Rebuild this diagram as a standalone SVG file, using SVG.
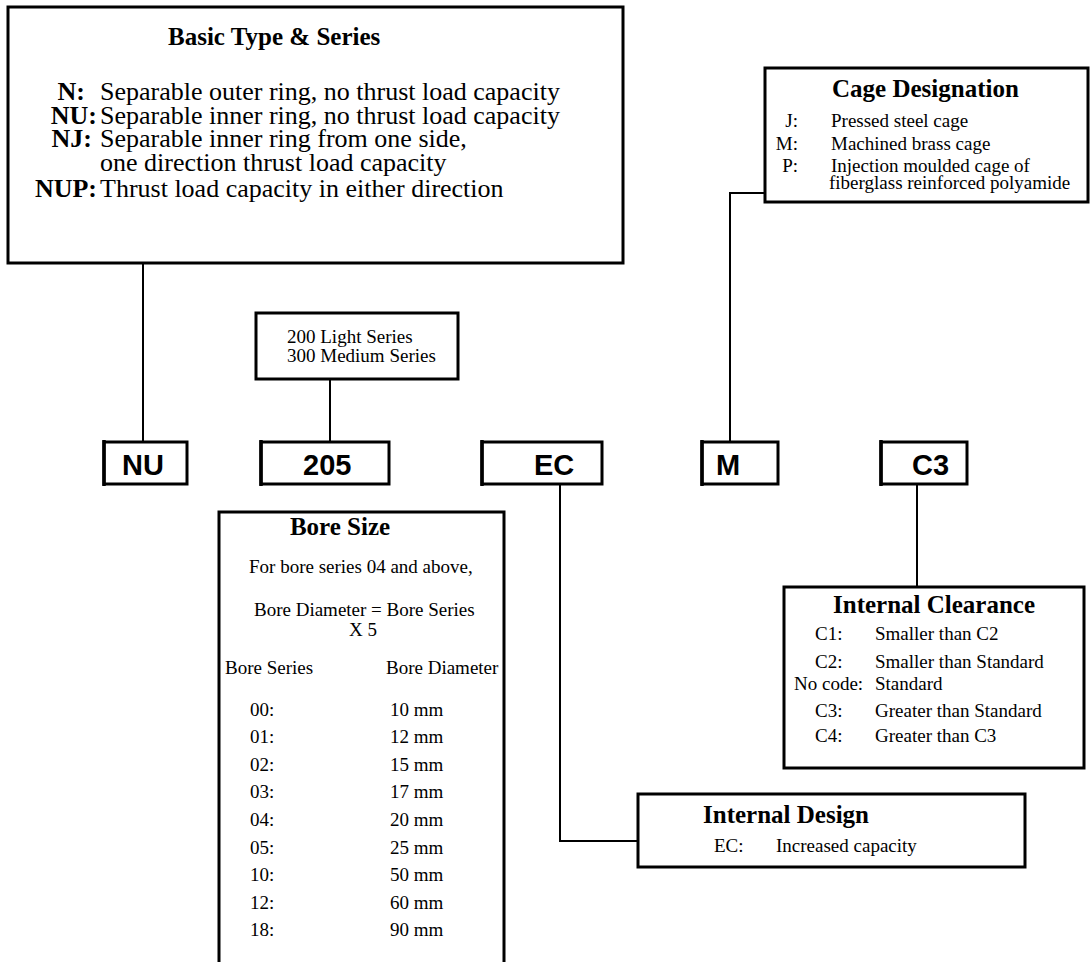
<svg xmlns="http://www.w3.org/2000/svg" width="1092" height="962" viewBox="0 0 1092 962">
<style>
.box{fill:#fff;stroke:#000;stroke-width:3}
.conn{fill:none;stroke:#000;stroke-width:2}
.edge{stroke:#000;stroke-width:3.5}
text{font-family:"Liberation Serif","Times New Roman",serif;fill:#000}
.title{font-weight:bold;font-size:25px}
.body{font-size:19px}
.big{font-size:26px}
.lbl{font-size:26px;font-weight:bold}
.code{font-family:"Liberation Sans",Arial,sans-serif;font-weight:bold;font-size:29px}
</style>
<rect width="1092" height="962" fill="#fff"/>
<g id="connectors">
<path class="conn" d="M143,263 V442"/>
<path class="conn" d="M330,379 V442"/>
<path class="conn" d="M560,485 V841 H638"/>
<path class="conn" d="M765,193 H730 V442"/>
<path class="conn" d="M917,485 V587"/>
</g>
<g id="basic-type">
<rect class="box" x="8" y="7" width="615" height="256"/>
<text class="title" x="168" y="45">Basic Type &amp; Series</text>
<text class="lbl" x="85" y="100" text-anchor="end">N:</text>
<text class="big" x="100" y="100">Separable outer ring, no thrust load capacity</text>
<text class="lbl" x="97" y="124" text-anchor="end">NU:</text>
<text class="big" x="100" y="124">Separable inner ring, no thrust load capacity</text>
<text class="lbl" x="92" y="147" text-anchor="end">NJ:</text>
<text class="big" x="100" y="147">Separable inner ring from one side,</text>
<text class="big" x="100" y="171">one direction thrust load capacity</text>
<text class="lbl" x="97" y="197" text-anchor="end">NUP:</text>
<text class="big" x="100" y="197">Thrust load capacity in either direction</text>
</g>
<g id="series">
<rect class="box" x="256" y="313" width="202" height="66"/>
<text class="body" x="287" y="343">200 Light Series</text>
<text class="body" x="287" y="362">300 Medium Series</text>
</g>
<g id="code-nu">
<rect class="box" x="104" y="442" width="83" height="42"/>
<line class="edge" x1="104" y1="440" x2="104" y2="486"/>
<text class="code" x="122" y="475">NU</text>
</g>
<g id="code-205">
<rect class="box" x="261" y="442" width="128" height="42"/>
<line class="edge" x1="261" y1="440" x2="261" y2="486"/>
<text class="code" x="303" y="475">205</text>
</g>
<g id="code-ec">
<rect class="box" x="482" y="442" width="120" height="42"/>
<line class="edge" x1="482" y1="440" x2="482" y2="486"/>
<text class="code" x="534" y="475">EC</text>
</g>
<g id="code-m">
<rect class="box" x="702" y="442" width="76" height="42"/>
<line class="edge" x1="702" y1="440" x2="702" y2="486"/>
<text class="code" x="716" y="475">M</text>
</g>
<g id="code-c3">
<rect class="box" x="881" y="442" width="86" height="42"/>
<line class="edge" x1="881" y1="440" x2="881" y2="486"/>
<text class="code" x="912" y="475">C3</text>
</g>
<g id="cage">
<rect class="box" x="765" y="68" width="323" height="134"/>
<text class="title" x="832" y="97">Cage Designation</text>
<text class="body" x="798" y="127" text-anchor="end">J:</text>
<text class="body" x="831" y="127">Pressed steel cage</text>
<text class="body" x="798" y="150" text-anchor="end">M:</text>
<text class="body" x="831" y="150">Machined brass cage</text>
<text class="body" x="798" y="172" text-anchor="end">P:</text>
<text class="body" x="831" y="172">Injection moulded cage of</text>
<text class="body" x="829" y="189">fiberglass reinforced polyamide</text>
</g>
<g id="bore-size">
<path class="box" d="M219,962 V512 H504 V962"/>
<text class="title" x="340" y="535" text-anchor="middle">Bore Size</text>
<text class="body" x="249" y="573">For bore series 04 and above,</text>
<text class="body" x="254" y="616">Bore Diameter = Bore Series</text>
<text class="body" x="349" y="636">X 5</text>
<text class="body" x="225" y="674">Bore Series</text>
<text class="body" x="386" y="674">Bore Diameter</text>
<text class="body" x="250" y="716">00:</text><text class="body" x="390" y="716">10 mm</text>
<text class="body" x="250" y="743">01:</text><text class="body" x="390" y="743">12 mm</text>
<text class="body" x="250" y="771">02:</text><text class="body" x="390" y="771">15 mm</text>
<text class="body" x="250" y="798">03:</text><text class="body" x="390" y="798">17 mm</text>
<text class="body" x="250" y="826">04:</text><text class="body" x="390" y="826">20 mm</text>
<text class="body" x="250" y="854">05:</text><text class="body" x="390" y="854">25 mm</text>
<text class="body" x="250" y="881">10:</text><text class="body" x="390" y="881">50 mm</text>
<text class="body" x="250" y="909">12:</text><text class="body" x="390" y="909">60 mm</text>
<text class="body" x="250" y="936">18:</text><text class="body" x="390" y="936">90 mm</text>
</g>
<g id="internal-clearance">
<rect class="box" x="784" y="587" width="300" height="181"/>
<text class="title" x="833" y="613">Internal Clearance</text>
<text class="body" x="815" y="640">C1:</text>
<text class="body" x="875" y="640">Smaller than C2</text>
<text class="body" x="815" y="668">C2:</text>
<text class="body" x="875" y="668">Smaller than Standard</text>
<text class="body" x="794" y="690">No code:</text>
<text class="body" x="875" y="690">Standard</text>
<text class="body" x="815" y="717">C3:</text>
<text class="body" x="875" y="717">Greater than Standard</text>
<text class="body" x="815" y="742">C4:</text>
<text class="body" x="875" y="742">Greater than C3</text>
</g>
<g id="internal-design">
<rect class="box" x="638" y="794" width="387" height="73"/>
<text class="title" x="703" y="823">Internal Design</text>
<text class="body" x="714" y="852">EC:</text>
<text class="body" x="776" y="852">Increased capacity</text>
</g>
</svg>
